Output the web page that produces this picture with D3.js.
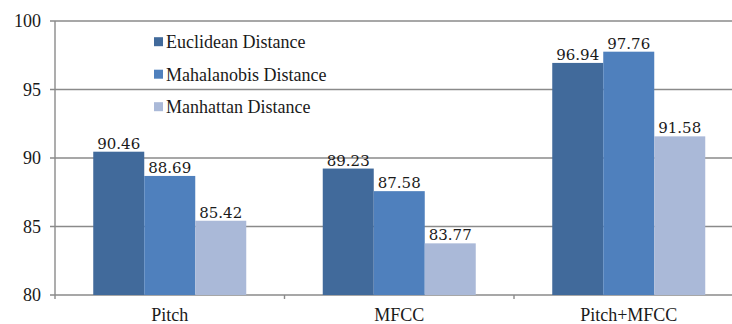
<!DOCTYPE html>
<html>
<head>
<meta charset="utf-8">
<script src="https://cdn.jsdelivr.net/npm/d3@7"></script>
<style>
  html, body { margin: 0; padding: 0; background: #fff; }
  svg { display: block; }
</style>
</head>
<body>
<svg id="chart" width="732" height="324"></svg>
<script>
// Recognition accuracy (%) by feature set and distance measure
const categories = ["Pitch", "MFCC", "Pitch+MFCC"];
const seriesNames = ["Euclidean Distance", "Mahalanobis Distance", "Manhattan Distance"];
const euclidean = [90.46, 89.23, 96.94];
const mahalanobis = [88.69, 87.58, 97.76];
const manhattan = [85.42, 83.77, 91.58];
const yTicks = [80, 85, 90, 95, 100];
const colors = ["#416a9b", "#4f80bd", "#aab9d8"];

const seriesValues = [euclidean, mahalanobis, manhattan];

const svg = d3.select("#chart");
const plot = { left: 55, right: 743.5, top: 21, bottom: 295 };
const gridColor = "#8a8a8a";
const serif = "Liberation Serif";
const labelFont = "DejaVu Serif";

const x0 = d3.scaleBand().domain(categories).range([plot.left, plot.right]).paddingInner(0).paddingOuter(0);
const bw = x0.bandwidth();
const x1 = d3.scaleBand().domain(seriesNames).range([bw / 6, bw * 5 / 6]).padding(0);
const y = d3.scaleLinear().domain([80, 100]).range([plot.bottom, plot.top]);

// horizontal gridlines (the 80 line doubles as the category axis)
svg.append("g").selectAll("line").data(yTicks).join("line")
  .attr("x1", plot.left - 5).attr("x2", plot.right)
  .attr("y1", d => y(d)).attr("y2", d => y(d))
  .attr("stroke", gridColor).attr("stroke-width", 1.4);

// value axis line
svg.append("line")
  .attr("x1", plot.left).attr("x2", plot.left)
  .attr("y1", y(100)).attr("y2", y(80) + 4)
  .attr("stroke", gridColor).attr("stroke-width", 1.4);

// category separator ticks
svg.append("g").selectAll("line").data(categories.slice(1)).join("line")
  .attr("x1", d => x0(d)).attr("x2", d => x0(d))
  .attr("y1", y(80)).attr("y2", y(80) + 4)
  .attr("stroke", gridColor).attr("stroke-width", 1.4);

// y tick labels
svg.append("g").selectAll("text").data(yTicks).join("text")
  .attr("x", 41).attr("y", d => y(d))
  .attr("dy", "0.35em")
  .attr("text-anchor", "end")
  .style("font-family", serif).style("font-size", "18px")
  .attr("fill", "#1a1a1a")
  .text(d => d);

// category labels
svg.append("g").selectAll("text").data(categories).join("text")
  .attr("x", d => x0(d) + bw / 2).attr("y", 321)
  .attr("text-anchor", "middle")
  .style("font-family", serif).style("font-size", "18px")
  .attr("fill", "#1a1a1a")
  .text(d => d);

// bars
const rows = [];
categories.forEach((c, i) => {
  seriesNames.forEach((s, j) => rows.push({ cat: c, series: s, value: seriesValues[j][i], color: colors[j] }));
});

svg.append("g").selectAll("rect").data(rows).join("rect")
  .attr("x", d => x0(d.cat) + x1(d.series))
  .attr("width", x1.bandwidth())
  .attr("y", d => y(d.value))
  .attr("height", d => y(80) - y(d.value))
  .attr("fill", d => d.color);

// value labels
svg.append("g").selectAll("text").data(rows).join("text")
  .attr("x", d => x0(d.cat) + x1(d.series) + x1.bandwidth() / 2)
  .attr("y", d => y(d.value) - 3)
  .attr("text-anchor", "middle")
  .style("font-family", labelFont).style("font-size", "15px")
  .attr("fill", "#1a1a1a")
  .text(d => d.value.toFixed(2));

// legend
const legend = svg.append("g").selectAll("g").data(seriesNames).join("g")
  .attr("transform", (d, i) => `translate(154, ${41.7 + i * 32.5})`);
legend.append("rect")
  .attr("x", 0).attr("y", -4.5).attr("width", 9).attr("height", 9)
  .attr("fill", (d, i) => colors[i]);
legend.append("text")
  .attr("x", 12).attr("y", 0).attr("dy", "0.35em")
  .style("font-family", serif).style("font-size", "18px")
  .attr("fill", "#1a1a1a")
  .text(d => d);
</script>
</body>
</html>
